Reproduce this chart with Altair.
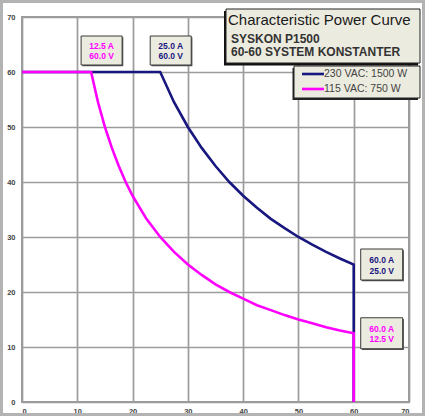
import altair as alt
import pandas as pd

# ---- data ----
series_names = ["230 VAC: 1500 W", "115 VAC: 750 W"]
series_colors = ["#17177f", "#ff00ff"]

hi_current = [0, 25, 27.5, 30, 32.5, 35, 37.5, 40, 42.5, 45, 47.5, 50, 52.5, 55, 57.5, 60, 60]
hi_voltage = [60, 60, 54.5, 50, 46.2, 42.9, 40, 37.5, 35.3, 33.3, 31.6, 30, 28.6, 27.3, 26.1, 25, 0]

lo_current = [0, 12.5, 13.75, 15, 16.25, 17.5, 18.75, 20, 22.5, 25, 27.5, 30, 32.5, 35, 37.5,
              40, 42.5, 45, 47.5, 50, 52.5, 55, 57.5, 60, 60]
lo_voltage = [60, 60, 54.5, 50, 46.2, 42.9, 40, 37.5, 33.3, 30, 27.3, 25, 23.1, 21.4, 20,
              18.8, 17.6, 16.7, 15.8, 15, 14.3, 13.6, 13, 12.5, 0]

ann_current = [12.5, 25.0, 60.0, 60.0]
ann_voltage = [60.0, 60.0, 25.0, 12.5]
ann_series = [1, 0, 0, 1]

title_lines = ["Characteristic Power Curve", "SYSKON P1500", "60-60 SYSTEM KONSTANTER"]
axis_ticks = list(range(0, 75, 5))

# ---- tables ----
rows = []
for s, (xs, ys) in enumerate([(hi_current, hi_voltage), (lo_current, lo_voltage)]):
    for i, (a, v) in enumerate(zip(xs, ys)):
        rows.append({"current": a, "voltage": v, "series": series_names[s], "i": i})
lines_df = pd.DataFrame(rows)

ann_df = pd.DataFrame({
    "current": ann_current,
    "voltage": ann_voltage,
    "series": [series_names[s] for s in ann_series],
    "label": [f"{a:.1f} A\n{v:.1f} V" for a, v in zip(ann_current, ann_voltage)],
    "grp": ["top", "top", "right", "right"],
})

one = pd.DataFrame({"k": [0]})
FONT = "Liberation Sans"
BOX_FILL = "#ecebdf"

color = alt.Color("series:N", scale=alt.Scale(domain=series_names, range=series_colors), legend=None)

cond_color = {"condition": {"test": "datum.value % 10 === 0", "value": "#9c9c9c"}, "value": "#dadada"}
cond_width = {"condition": {"test": "datum.value % 10 === 0", "value": 1.7}, "value": 1}


def make_axis(**kw):
    return alt.Axis(values=axis_ticks, title=None, ticks=False, domain=False,
                    labelExpr="datum.value % 10 === 0 ? datum.label : ''",
                    labelOverlap=False, gridColor=cond_color, gridWidth=cond_width,
                    labelFont=FONT, labelFontSize=7.5, labelFontWeight="bold",
                    labelColor="#444444", **kw)


X = alt.X("current:Q", scale=alt.Scale(domain=[0, 70], nice=False, zero=False),
          axis=make_axis(labelPadding=5))
Y = alt.Y("voltage:Q", scale=alt.Scale(domain=[0, 70], nice=False, zero=False),
          axis=make_axis(labelPadding=7))


def px_rect(x, x2, y, y2, **kw):
    return alt.Chart(one).mark_rect(**kw).encode(
        x=alt.value(x), x2=alt.value(x2), y=alt.value(y), y2=alt.value(y2))


def px_text(s, x, y, **kw):
    return alt.Chart(one).mark_text(**kw).encode(
        x=alt.value(x), y=alt.value(y), text=alt.value(s))


frame = px_rect(-20.5, 401.5, -15.5, 397.5, fill=None, stroke="#b3b3b3", strokeWidth=3)

line_hi = alt.Chart(lines_df).transform_filter(
    alt.datum.series == series_names[0]).mark_line(strokeWidth=2.6, clip=False).encode(
    x=X, y=Y, color=color, order="i:Q")
line_lo = alt.Chart(lines_df).transform_filter(
    alt.datum.series == series_names[1]).mark_line(strokeWidth=2.6, clip=False).encode(
    x=X, y=Y, color=color, order="i:Q")

layers = [frame, line_hi, line_lo]

offsets = {"top": (-10, 31, -36, -7, 10.5, -26.3), "right": (7, 49, -15.5, 15.5, 28, -4.5)}
for g, (x0, x1, y0, y1, tdx, tdy) in offsets.items():
    base = alt.Chart(ann_df).transform_filter(alt.datum.grp == g)
    shadow = base.mark_rect(fill="#555555", xOffset=x0 + 1.2, x2Offset=x1 + 1.2,
                            yOffset=y0 + 1.2, y2Offset=y1 + 1.2).encode(
        x="current:Q", x2="current:Q", y="voltage:Q", y2="voltage:Q")
    box = base.mark_rect(fill=BOX_FILL, stroke="#3a3a3a", strokeWidth=1,
                         xOffset=x0, x2Offset=x1, yOffset=y0, y2Offset=y1).encode(
        x="current:Q", x2="current:Q", y="voltage:Q", y2="voltage:Q")
    txt = base.mark_text(font=FONT, fontSize=8.5, fontWeight="bold", lineBreak="\n",
                         lineHeight=10.5, align="center", baseline="middle",
                         dx=tdx, dy=tdy).encode(
        x="current:Q", y="voltage:Q", text="label:N", color=color)
    layers += [shadow, box, txt]

# title box
layers += [
    px_rect(202, 396, -6, 48.5, fill="#111111"),
    px_rect(204, 398, -8, 46, fill=BOX_FILL, stroke="#222222", strokeWidth=1),
    px_text(title_lines[0], 206, 8, font=FONT, fontSize=15,
            align="left", baseline="alphabetic", color="#1a1a1a"),
    px_text(title_lines[1], 209, 26, font=FONT, fontSize=12, fontWeight="bold",
            align="left", baseline="alphabetic", color="#333333"),
    px_text(title_lines[2], 209, 39, font=FONT, fontSize=12, fontWeight="bold",
            align="left", baseline="alphabetic", color="#333333"),
]

# legend box
layers += [
    px_rect(270.5, 396, 51, 83, fill="#222222"),
    px_rect(272, 398, 49, 81, fill=BOX_FILL, stroke="#222222", strokeWidth=1),
]
for k, (nm, col) in enumerate(zip(series_names, series_colors)):
    yy = 57 + 15 * k
    layers.append(alt.Chart(one).mark_rule(strokeWidth=2.6).encode(
        x=alt.value(280), x2=alt.value(302), y=alt.value(yy), color=alt.value(col)))
    layers.append(px_text(nm, 302, yy, font=FONT, fontSize=10.5, align="left",
                          baseline="middle", color="#444444"))

chart = alt.layer(*layers).properties(
    width=387, height=385,
    padding={"left": 22, "top": 17, "right": 16, "bottom": 14},
    autosize="none", background="white",
).configure_view(stroke="#9c9c9c", strokeWidth=2)

chart.save("out.html", embed_options={"renderer": "svg", "actions": False})
